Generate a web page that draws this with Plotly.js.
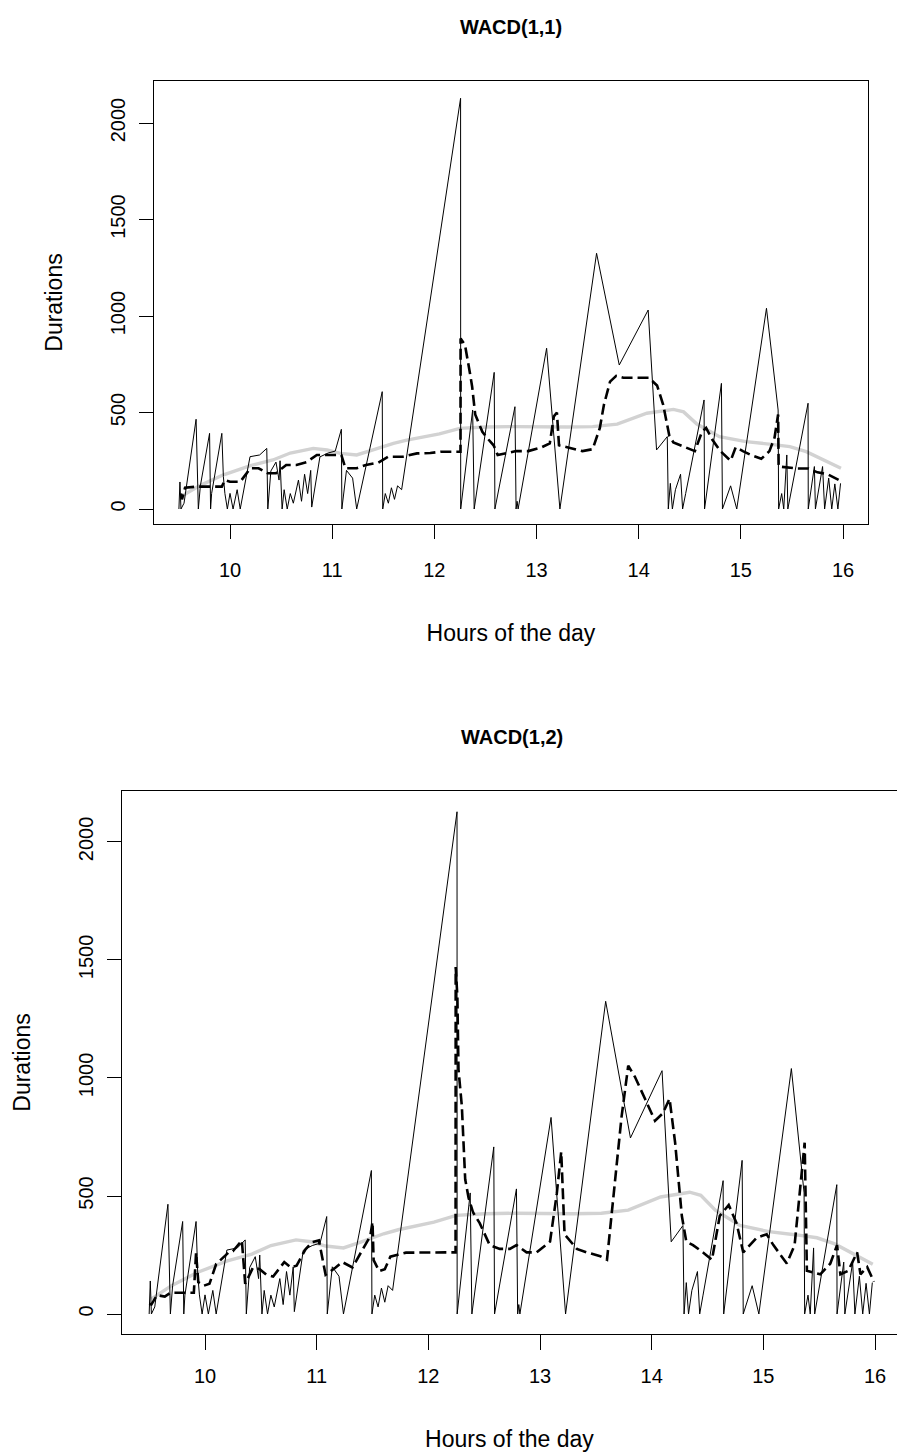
<!DOCTYPE html>
<html>
<head>
<meta charset="utf-8">
<script src="https://cdn.plot.ly/plotly-3.0.1.min.js"></script>
<style>html,body{margin:0;padding:0;background:#fff;}#chart{width:897px;height:1455px;}</style>
</head>
<body>
<div id="chart"></div>
<script>
// Observed durations (solid line) – hours of the day vs duration
const obsHours = [9.50,9.51,9.52,9.55,9.668,9.69,9.71,9.80,9.81,9.82,9.92,9.935,9.95,9.974,10.00,10.03,10.07,10.10,10.196,10.29,10.36,10.37,10.40,10.45,10.48,10.49,10.51,10.53,10.56,10.59,10.62,10.65,10.67,10.70,10.73,10.76,10.79,10.80,10.88,10.96,11.03,11.09,11.095,11.14,11.20,11.24,11.49,11.495,11.52,11.55,11.58,11.61,11.64,11.68,12.257,12.258,12.375,12.39,12.586,12.593,12.789,12.80,12.81,12.82,13.099,13.229,13.588,13.81,14.093,14.175,14.28,14.29,14.31,14.33,14.36,14.41,14.43,14.46,14.64,14.645,14.81,14.82,14.90,14.96,15.251,15.365,15.37,15.40,15.42,15.45,15.46,15.658,15.66,15.72,15.73,15.80,15.82,15.86,15.89,15.92,15.95,15.976];
const obsDurations = [0,140,0,30,465,0,120,392,0,80,392,168,81,0,81,0,100,0,271,280,314,0,197,243,150,250,0,100,0,80,30,100,150,40,180,80,200,10,270,290,300,413,0,200,160,0,608,0,80,30,110,50,120,100,2128,0,513,0,708,0,530,0,40,0,833,0,1325,746,1031,306,375,0,133,0,100,180,0,80,565,0,651,0,120,0,1040,513,0,80,0,280,0,548,0,220,0,220,0,160,0,130,0,133];

// Diurnal component (grey line)
const diurnalHours = [9.52,9.70,9.93,10.20,10.42,10.59,10.815,10.95,11.08,11.24,11.40,11.60,11.73,12.05,12.25,12.50,12.77,13.00,13.30,13.55,13.79,14.08,14.34,14.44,14.57,14.79,15.05,15.30,15.48,15.64,15.87,15.98];
const diurnalValues = [64,120,176,225,254,290,314,306,288,280,306,340,357,389,418,425,427,425,425,427,440,496,516,503,440,375,349,335,323,297,237,211];

// WACD(1,1) fitted durations (dashed)
const wacd11Hours = [9.52,9.53,9.56,9.67,9.92,9.95,10.00,10.10,10.20,10.28,10.37,10.45,10.55,10.65,10.75,10.85,11.00,11.09,11.13,11.24,11.33,11.45,11.55,11.69,11.83,11.96,12.06,12.20,12.256,12.257,12.30,12.35,12.37,12.40,12.47,12.53,12.58,12.62,12.70,12.80,12.92,13.05,13.13,13.17,13.20,13.22,13.30,13.45,13.55,13.62,13.66,13.72,13.78,13.85,14.10,14.18,14.24,14.27,14.30,14.34,14.45,14.55,14.62,14.66,14.72,14.80,14.90,14.95,15.02,15.10,15.20,15.28,15.33,15.365,15.37,15.45,15.55,15.66,15.75,15.85,15.92,15.98];
const wacd11Values = [80,50,110,116,116,150,141,141,211,211,185,185,228,228,243,280,280,280,211,211,228,240,271,271,288,290,297,297,297,884,850,700,634,490,400,360,330,280,290,300,300,320,340,480,500,330,320,300,310,420,540,660,690,680,680,640,540,450,380,345,320,300,400,420,360,300,250,320,300,280,260,300,370,490,220,215,210,210,190,180,160,145];

// WACD(1,2) fitted durations (dashed)
const wacd12Hours = [9.50,9.52,9.57,9.64,9.69,9.81,9.90,9.92,9.94,9.99,10.04,10.10,10.21,10.25,10.33,10.36,10.43,10.49,10.55,10.61,10.71,10.77,10.82,10.90,10.96,11.02,11.08,11.17,11.23,11.32,11.41,11.48,11.50,11.51,11.56,11.61,11.66,11.80,12.15,12.244,12.245,12.26,12.27,12.30,12.33,12.36,12.40,12.46,12.55,12.64,12.73,12.79,12.88,12.97,13.09,13.15,13.19,13.22,13.33,13.42,13.54,13.60,13.63,13.69,13.73,13.79,13.85,13.94,14.03,14.10,14.16,14.21,14.24,14.27,14.31,14.37,14.46,14.54,14.61,14.69,14.76,14.82,14.94,15.03,15.09,15.21,15.28,15.33,15.37,15.39,15.51,15.60,15.66,15.69,15.76,15.84,15.87,15.93,15.99];
const wacd12Values = [43,40,80,74,90,90,90,260,135,120,128,212,260,266,312,128,197,190,166,159,220,197,205,274,305,312,166,197,220,197,274,330,390,228,182,190,243,260,261,261,1470,1346,1036,881,571,493,431,385,292,276,276,292,261,261,307,509,687,338,276,261,245,230,369,648,834,1052,1005,912,819,850,912,726,571,416,307,292,261,230,416,462,385,261,323,338,292,214,292,540,726,183,168,214,292,168,183,261,168,199,137];

const xTickVals = [10,11,12,13,14,15,16];
const yTickVals = [0,500,1000,1500,2000];
const panelTitles = ['WACD(1,1)','WACD(1,2)'];

const FONT = 'Liberation Sans, Arial, sans-serif';

function traces(fitH, fitV, xa, ya) {
  return [
    {x: diurnalHours, y: diurnalValues, xaxis: xa, yaxis: ya, type: 'scatter', mode: 'lines',
     line: {color: '#d2d2d2', width: 3.4}, hoverinfo: 'skip'},
    {x: obsHours, y: obsDurations, xaxis: xa, yaxis: ya, type: 'scatter', mode: 'lines',
     line: {color: '#000', width: 1}},
    {x: fitH, y: fitV, xaxis: xa, yaxis: ya, type: 'scatter', mode: 'lines',
     line: {color: '#000', width: 2.6, dash: '11px,5px'}}
  ];
}

const data = [].concat(
  traces(wacd11Hours, wacd11Values, 'x', 'y'),
  traces(wacd12Hours, wacd12Values, 'x2', 'y2')
);

function xAxis(domain, range, anchor, labelGap, ticklen) {
  return {
    domain: domain, range: range, anchor: anchor,
    tickmode: 'array', tickvals: xTickVals, ticktext: xTickVals.map(String),
    ticks: 'outside', ticklen: ticklen, tickwidth: 1, tickcolor: '#000',
    ticklabelstandoff: labelGap,
    showline: true, linecolor: '#000', linewidth: 1, mirror: true,
    showgrid: false, zeroline: false,
    tickfont: {family: FONT, size: 20, color: '#000'},
    title: {text: 'Hours of the day', font: {family: FONT, size: 23, color: '#000'}, standoff: 44},
    automargin: false
  };
}
function yAxis(domain, range, anchor, mirror) {
  return {
    domain: domain, range: range, anchor: anchor,
    tickmode: 'array', tickvals: yTickVals, ticktext: yTickVals.map(String),
    ticks: 'outside', ticklen: 14, tickwidth: 1, tickcolor: '#000',
    tickangle: -90, ticklabelstandoff: 6,
    showline: true, linecolor: '#000', linewidth: 1, mirror: mirror,
    showgrid: false, zeroline: false,
    tickfont: {family: FONT, size: 20, color: '#000'},
    title: {text: 'Durations', font: {family: FONT, size: 23, color: '#000'}, standoff: 37},
    automargin: false
  };
}

const layout = {
  width: 897, height: 1455,
  margin: {l: 0, r: 0, t: 0, b: 0},
  paper_bgcolor: '#fff', plot_bgcolor: '#fff',
  showlegend: false,
  title: {text: '<b>' + panelTitles[0] + '</b>', font: {family: FONT, size: 20, color: '#000'},
          x: 511/897, xref: 'paper', xanchor: 'center', y: 1 - 27/1455, yref: 'paper', yanchor: 'middle'},
  xaxis: xAxis([154/897, 868/897], [9.2561, 16.2447], 'y', 14, 14),
  yaxis: yAxis([1 - 524/1455, 1 - 81/1455], [-77.7, 2217.6], 'x', true),
  xaxis2: xAxis([122/897, 1], [9.2567, 16.197], 'y2', 9, 15),
  yaxis2: yAxis([1 - 1334/1455, 1 - 791/1455], [-84.7, 2216], 'x2', false),
  annotations: [
    {text: '<b>' + panelTitles[1] + '</b>', xref: 'paper', yref: 'paper', x: 512/897, y: 1 - 737/1455,
     xanchor: 'center', yanchor: 'middle', showarrow: false, font: {family: FONT, size: 20, color: '#000'}}
  ]
};

Plotly.newPlot('chart', data, layout, {displayModeBar: false, staticPlot: true});
</script>
</body>
</html>
